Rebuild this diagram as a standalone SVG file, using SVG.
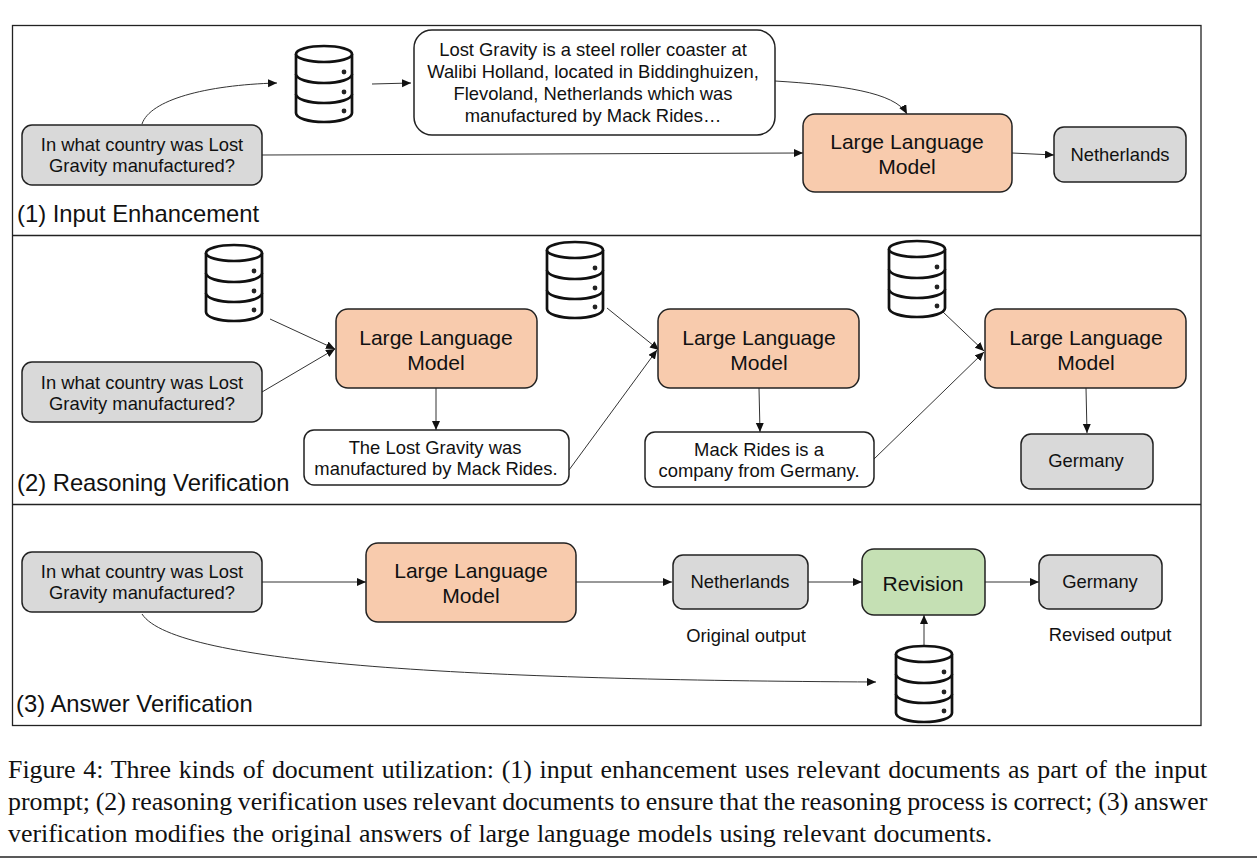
<svg xmlns="http://www.w3.org/2000/svg" width="1257" height="858" viewBox="0 0 1257 858">
<style>
text{font-family:"Liberation Sans",Arial,sans-serif;fill:#111}
.t{font-size:18.4px;text-anchor:middle}
.m{font-size:21.1px;text-anchor:middle}
.h{font-size:23.8px}
.c{font-family:"Liberation Serif","Times New Roman",serif;font-size:25.9px}
.g{fill:#d9d9d9;stroke:#222;stroke-width:1.5}
.w{fill:#fff;stroke:#222;stroke-width:1.5}
.o{fill:#f8cbad;stroke:#222;stroke-width:1.5}
.v{fill:#c5e0b4;stroke:#222;stroke-width:1.5}
.a{fill:none;stroke:#333;stroke-width:1;marker-end:url(#ah)}
.p{fill:none;stroke:#222;stroke-width:1.3}
.d{fill:#fff;stroke:#111;stroke-width:2.7}
</style>
<defs>
<marker id="ah" markerUnits="userSpaceOnUse" markerWidth="10" markerHeight="10" refX="9" refY="4" orient="auto"><path d="M0 0L9 4L0 8z" fill="#111"/></marker>
<g id="db">
<path class="d" d="M1 9V68C1 73 13 77 29 77S57 73 57 68V9"/>
<path class="d" fill="none" d="M1 29C1 34 13 38 29 38S57 34 57 29M1 49C1 54 13 58 29 58S57 54 57 49"/>
<ellipse class="d" cx="29" cy="9" rx="28" ry="8"/>
<circle cx="49" cy="27" r="2.4" fill="#222"/><circle cx="49" cy="47" r="2.4" fill="#222"/><circle cx="49" cy="66" r="2.4" fill="#222"/>
</g>
</defs>
<rect width="1257" height="858" fill="#fff"/>
<g id="panels">
<rect class="p" x="12.500" y="25.500" width="1188.500" height="700"/>
<path class="p" d="M12 235.500H1201M12 504.500H1201"/>
<path d="M0 857H1257" stroke="#222" stroke-width="1.300"/>
</g>
<g id="connectors">
<path class="a" d="M142 124C150 100 205 85 277 83"/>
<path class="a" d="M372 84L411 83"/>
<path class="a" d="M775 81C840 85 895 92 907 114"/>
<path class="a" d="M262 155L803 153"/>
<path class="a" d="M1012 153L1054 155"/>
<path class="a" d="M270 319L335 349"/>
<path class="a" d="M262 392L335 349"/>
<path class="a" d="M436 388V430"/>
<path class="a" d="M569 470L657 350"/>
<path class="a" d="M607 308L659 350"/>
<path class="a" d="M759 388L760 432"/>
<path class="a" d="M874 459L984 352"/>
<path class="a" d="M943 312L984 351"/>
<path class="a" d="M1086 388L1087 433"/>
<path class="a" d="M262 582H366"/>
<path class="a" d="M576 582H672"/>
<path class="a" d="M808 582H862"/>
<path class="a" d="M985 582H1039"/>
<path class="a" d="M924 650V615"/>
<path class="a" d="M142 614C175 665 480 680 876 682"/>
</g>
<g id="q1"><rect class="g" x="22" y="125" width="240" height="60" rx="10"/><text class="t" x="142" y="151">In what country was Lost</text><text class="t" x="142" y="172">Gravity manufactured?</text></g>
<g id="db1"><use href="#db" x="295" y="45"/></g>
<g id="doc1"><rect class="w" x="414" y="30" width="361" height="105" rx="18"/><text class="t" x="593" y="56">Lost Gravity is a steel roller coaster at</text><text class="t" x="593" y="78">Walibi Holland, located in Biddinghuizen,</text><text class="t" x="593" y="100">Flevoland, Netherlands which was</text><text class="t" x="593" y="122">manufactured by Mack Rides…</text></g>
<g id="llm1"><rect class="o" x="803" y="114" width="209" height="78" rx="12"/><text class="m" x="907" y="149">Large Language</text><text class="m" x="907" y="174">Model</text></g>
<g id="out1"><rect class="g" x="1054" y="127" width="132" height="55" rx="10"/><text class="t" x="1120" y="161">Netherlands</text></g>
<text class="h" x="17" y="222">(1) Input Enhancement</text>

<g id="db2"><use href="#db" x="205" y="244"/></g>
<g id="q2"><rect class="g" x="22" y="362" width="240" height="60" rx="10"/><text class="t" x="142" y="389">In what country was Lost</text><text class="t" x="142" y="410">Gravity manufactured?</text></g>
<g id="llm2"><rect class="o" x="336" y="309" width="201" height="79" rx="12"/><text class="m" x="436" y="345">Large Language</text><text class="m" x="436" y="370">Model</text></g>
<g id="r1"><rect class="w" x="304" y="430" width="265" height="55" rx="10"/><text class="t" x="435" y="454">The Lost Gravity was</text><text class="t" x="436" y="475">manufactured by Mack Rides.</text></g>
<g id="db3"><use href="#db" x="546" y="241"/></g>
<g id="llm3"><rect class="o" x="658" y="309" width="201" height="79" rx="12"/><text class="m" x="759" y="345">Large Language</text><text class="m" x="759" y="370">Model</text></g>
<g id="r2"><rect class="w" x="645" y="432" width="229" height="55" rx="10"/><text class="t" x="759" y="456">Mack Rides is a</text><text class="t" x="759" y="477">company from Germany.</text></g>
<g id="db4"><use href="#db" x="888" y="240"/></g>
<g id="llm4"><rect class="o" x="985" y="309" width="201" height="79" rx="12"/><text class="m" x="1086" y="345">Large Language</text><text class="m" x="1086" y="370">Model</text></g>
<g id="out2"><rect class="g" x="1021" y="434" width="132" height="55" rx="10"/><text class="t" x="1086" y="467">Germany</text></g>
<text class="h" x="17" y="491">(2) Reasoning Verification</text>

<g id="q3"><rect class="g" x="22" y="552" width="240" height="60" rx="10"/><text class="t" x="142" y="578">In what country was Lost</text><text class="t" x="142" y="599">Gravity manufactured?</text></g>
<g id="llm5"><rect class="o" x="366" y="543" width="210" height="79" rx="12"/><text class="m" x="471" y="578">Large Language</text><text class="m" x="471" y="603">Model</text></g>
<g id="out3"><rect class="g" x="673" y="555" width="135" height="54" rx="10"/><text class="t" x="740" y="588">Netherlands</text></g>
<g id="rev"><rect class="v" x="862" y="549" width="123" height="66" rx="12"/><text class="m" x="923" y="591">Revision</text></g>
<g id="out4"><rect class="g" x="1039" y="555" width="123" height="54" rx="10"/><text class="t" x="1100" y="588">Germany</text></g>
<text class="t" x="746" y="642">Original output</text>
<text class="t" x="1110" y="641">Revised output</text>
<g id="db5"><use href="#db" x="895" y="645"/></g>
<text class="h" x="16" y="712">(3) Answer Verification</text>

<g id="caption">
<text class="c" x="8" y="778" word-spacing="1.250">Figure 4: Three kinds of document utilization: (1) input enhancement uses relevant documents as part of the input</text>
<text class="c" x="8" y="810" word-spacing="-0.800">prompt; (2) reasoning verification uses relevant documents to ensure that the reasoning process is correct; (3) answer</text>
<text class="c" x="8" y="842" word-spacing="0.750">verification modifies the original answers of large language models using relevant documents.</text>
</g>
</svg>
